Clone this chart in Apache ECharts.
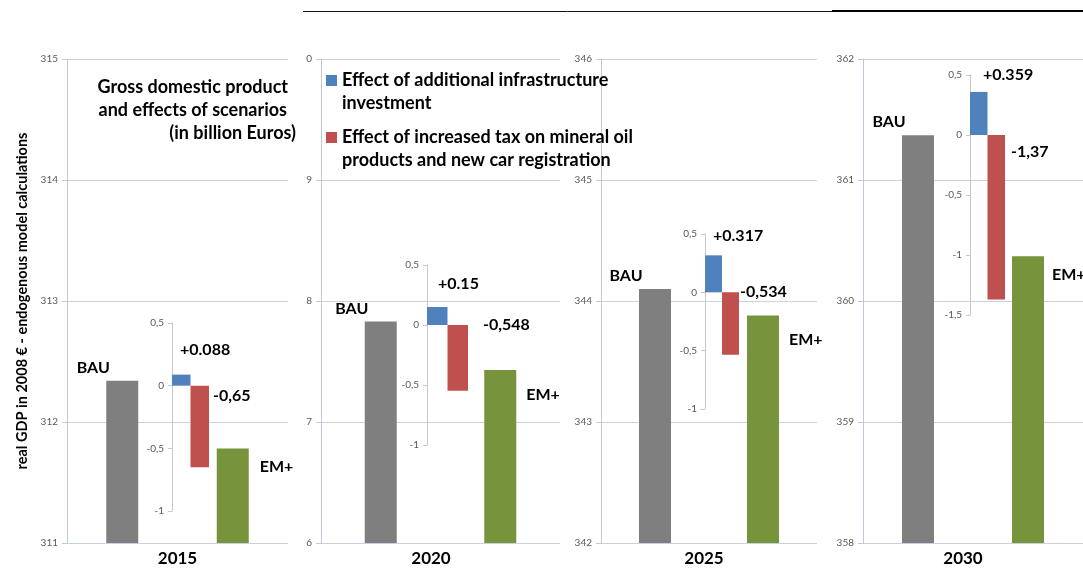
<!DOCTYPE html>
<html style="height: 100%">
<head>
<meta charset="utf-8">
<title>Gross domestic product and effects of scenarios</title>
<script src="https://cdn.jsdelivr.net/npm/echarts@6/dist/echarts.min.js"></script>
</head>
<body style="height: 100%; margin: 0; background: #fff">
<div id="main" style="width: 1083px; height: 572px"></div>
<script>
// values
var years = ['2015', '2020', '2025', '2030'];
var bauValues = [312.34, 7.83, 344.10, 361.37];
var emValues = [311.78, 7.43, 343.88, 360.37];
var infraEffect = [0.088, 0.15, 0.317, 0.359];
var taxEffect = [-0.65, -0.548, -0.534, -1.37];
var infraText = ['+0.088', '+0.15', '+0.317', '+0.359'];
var taxText = ['-0,65', '-0,548', '-0,534', '-1,37'];
var axisMin = [311, 6, 342, 358];
var axisMax = [315, 10, 346, 362];
var tickLabels = [
    ['311', '312', '313', '314', '315'],
    ['6', '7', '8', '9', '0'],
    ['342', '343', '344', '345', '346'],
    ['358', '359', '360', '361', '362']
];
var insetMin = [-1, -1, -1, -1.5];
var insetMax = [0.5, 0.5, 0.5, 0.5];

var infraName = 'Effect of additional infrastructure\ninvestment';
var taxName = 'Effect of increased tax on mineral oil\nproducts and new car registration';

// layout of each year panel (pixels)
var panels = [
    {left: 67,  width: 221, inset: [172, 323, 37, 188], yearPad: 0,  infraPos: [8, -25],  taxPos: [4, 10], emPos: [11, 18]},
    {left: 321, width: 239, inset: [427, 265, 41, 180], yearPad: 19, infraPos: [11, -23], taxPos: [15, 0], emPos: [10, 25]},
    {left: 601, width: 216, inset: [705, 234, 34, 175], yearPad: 10, infraPos: [8, -20],  taxPos: [1, 0],  emPos: [10, 24]},
    {left: 863, width: 220, inset: [970, 75, 35, 240],  yearPad: 20, infraPos: [13, -17], taxPos: [6, 17], emPos: [8, 19]}
];

var FONT = 'Lato';
var boldLabel = {fontFamily: FONT, fontWeight: 'bold', fontSize: 16, color: '#000'};
var gridColor = '#c6d3e3';
var axisColor = '#bfc8d4';

var grids = [], xAxes = [], yAxes = [], series = [];

panels.forEach(function (p, i) {
    grids.push({left: p.left, top: 59, width: p.width, height: 488});
    xAxes.push({
        type: 'category', gridIndex: i, data: ['BAU', 'EM+'],
        axisLine: {show: false}, axisTick: {show: false}, axisLabel: {show: false},
        name: years[i], nameLocation: 'middle', nameGap: 7,
        nameTextStyle: {fontFamily: FONT, fontWeight: 'bold', fontSize: 17, color: '#000',
            verticalAlign: 'top', padding: [0, p.yearPad, 0, 0]}
    });
    yAxes.push({
        type: 'value', gridIndex: i, min: axisMin[i], max: axisMax[i], interval: 1,
        axisLine: {show: true, lineStyle: {color: axisColor}},
        axisTick: {show: true, length: 5, lineStyle: {color: axisColor}},
        splitLine: {show: true, lineStyle: {color: gridColor}},
        axisLabel: {fontFamily: FONT, fontSize: 10, color: '#595959', margin: 9,
            formatter: function (v) { return tickLabels[i][Math.round(v - axisMin[i])]; }},
        name: i === 0 ? 'real GDP in 2008 € - endogenous model calculations' : '',
        nameLocation: 'middle', nameGap: 37,
        nameTextStyle: {fontFamily: FONT, fontWeight: 'bold', fontSize: 14.5, color: '#000'}
    });
    series.push({
        type: 'bar', xAxisIndex: i, yAxisIndex: i, barWidth: 32, silent: true,
        data: [
            {value: bauValues[i], itemStyle: {color: '#7f7f7f'},
                label: Object.assign({show: true, position: 'top', offset: [-29, 0], formatter: '{b}'}, boldLabel)},
            {value: emValues[i], itemStyle: {color: '#77933c'},
                label: Object.assign({show: true, position: ['100%', 0], offset: p.emPos,
                    align: 'left', verticalAlign: 'middle', formatter: '{b}'}, boldLabel)}
        ]
    });
});

panels.forEach(function (p, i) {
    var k = 4 + i;
    grids.push({left: p.inset[0], top: p.inset[1], width: p.inset[2], height: p.inset[3]});
    xAxes.push({type: 'category', gridIndex: k, data: ['infra', 'tax'], show: false});
    yAxes.push({
        type: 'value', gridIndex: k, min: insetMin[i], max: insetMax[i], interval: 0.5,
        axisLine: {show: true, lineStyle: {color: '#c8c8c8'}},
        axisTick: {show: true, length: 4, lineStyle: {color: '#c8c8c8'}},
        splitLine: {show: false},
        axisLabel: {fontFamily: FONT, fontSize: 10, color: '#595959', margin: 8,
            formatter: function (v) { return String(v).replace('.', ','); }}
    });
    series.push({
        type: 'bar', name: infraName, xAxisIndex: k, yAxisIndex: k, stack: 'eff' + i,
        barCategoryGap: '0%', itemStyle: {color: '#4f81bd'}, silent: true,
        data: [infraEffect[i], '-'],
        label: Object.assign({show: true, position: [0, 0], offset: p.infraPos,
            align: 'left', verticalAlign: 'middle', formatter: function () { return infraText[i]; }}, boldLabel)
    });
    series.push({
        type: 'bar', name: taxName, xAxisIndex: k, yAxisIndex: k, stack: 'eff' + i,
        barCategoryGap: '0%', itemStyle: {color: '#c0504d'}, silent: true,
        data: ['-', taxEffect[i]],
        label: Object.assign({show: true, position: ['100%', 0], offset: p.taxPos,
            align: 'left', verticalAlign: 'middle', formatter: function () { return taxText[i]; }}, boldLabel)
    });
});

var legendIcon = 'path://M0,0H11V11H0Z M0,33.9H0.1V34H0Z';
var titleFont = 'bold 18px Lato';

var chart = echarts.init(document.getElementById('main'));
chart.setOption({
    animation: false,
    textStyle: {fontFamily: FONT},
    grid: grids,
    xAxis: xAxes,
    yAxis: yAxes,
    legend: {
        orient: 'vertical', left: 326, top: 69, padding: 0, itemGap: 11,
        itemWidth: 11, itemHeight: 34, selectedMode: false,
        data: [{name: infraName, icon: legendIcon}, {name: taxName, icon: legendIcon}],
        textStyle: {fontFamily: FONT, fontWeight: 'bold', fontSize: 18, lineHeight: 23, color: '#000'}
    },
    graphic: [
        {type: 'text', x: 288, y: 78, style: {text: 'Gross domestic product', align: 'right', font: titleFont, fill: '#000'}},
        {type: 'text', x: 287, y: 101, style: {text: 'and effects of scenarios', align: 'right', font: titleFont, fill: '#000'}},
        {type: 'text', x: 296, y: 124, style: {text: '(in billion Euros)', align: 'right', font: titleFont, fill: '#000'}},
        {type: 'line', shape: {x1: 303, y1: 11.5, x2: 832, y2: 11.5}, style: {stroke: '#111', lineWidth: 1}},
        {type: 'line', shape: {x1: 832, y1: 11, x2: 1083, y2: 11}, style: {stroke: '#000', lineWidth: 2}}
    ],
    series: series
});
</script>
</body>
</html>
